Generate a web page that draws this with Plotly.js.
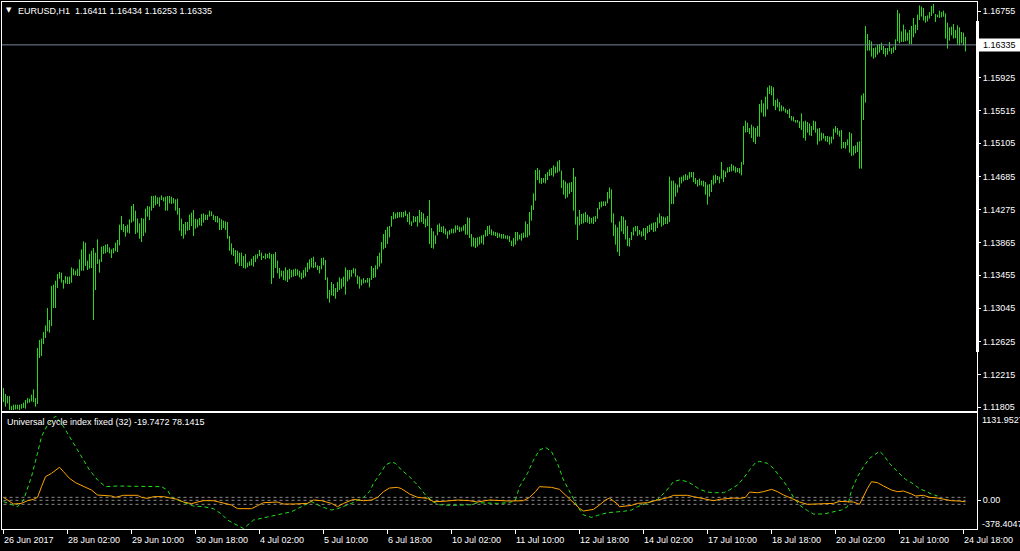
<!DOCTYPE html>
<html><head><meta charset="utf-8">
<script src="https://cdn.plot.ly/plotly-3.0.1.min.js"></script>
<style>html,body{margin:0;padding:0;background:#000;overflow:hidden}#chart{width:1020px;height:551px}</style>
</head><body><div id="chart"></div>
<script>
const symbolTitle = "EURUSD,H1  1.16411 1.16434 1.16253 1.16335";
const indicatorTitle = "Universal cycle index fixed (32) -19.7472 78.1415";
const lastClose = 1.16335;

const barHigh = [
1.12046,1.11971,1.11946,1.11946,1.11821,1.11838,1.11838,1.11838,1.11838,1.11846,
1.11863,1.11896,1.11921,1.11913,1.11963,1.12029,1.11921,1.12546,1.12646,1.12663,
1.12746,1.12829,1.13046,1.12896,1.13321,1.13338,1.13388,1.13471,1.13496,1.13488,
1.13396,1.13446,1.13438,1.13438,1.13554,1.13538,1.13513,1.13538,1.13654,1.13779,
1.13879,1.13863,1.13638,1.13721,1.13763,1.13796,1.13738,1.13904,1.13654,1.13813,
1.13821,1.13838,1.13846,1.13804,1.13779,1.13796,1.13863,1.13896,1.14088,1.14196,
1.14096,1.14071,1.14088,1.14154,1.14321,1.14346,1.14263,1.14163,1.14104,1.14171,
1.14163,1.14288,1.14321,1.14313,1.14446,1.14446,1.14454,1.14429,1.14429,1.14454,
1.14429,1.14438,1.14446,1.14446,1.14438,1.14421,1.14404,1.14413,1.14296,1.14163,
1.14096,1.14121,1.14121,1.14213,1.14238,1.14271,1.14163,1.14154,1.14171,1.14221,
1.14229,1.14213,1.14213,1.14263,1.14254,1.14213,1.14196,1.14196,1.14171,1.14154,
1.14138,1.14129,1.14121,1.13946,1.13854,1.13796,1.13771,1.13763,1.13738,1.13738,
1.13696,1.13721,1.13613,1.13629,1.13663,1.13696,1.13713,1.13721,1.13771,1.13738,
1.13696,1.13729,1.13721,1.13738,1.13721,1.13721,1.13746,1.13638,1.13546,1.13513,
1.13513,1.13554,1.13521,1.13538,1.13521,1.13529,1.13538,1.13529,1.13513,1.13488,
1.13521,1.13554,1.13613,1.13654,1.13671,1.13688,1.13621,1.13579,1.13571,1.13671,
1.13679,1.13646,1.13429,1.13271,1.13371,1.13346,1.13296,1.13371,1.13429,1.13413,
1.13438,1.13554,1.13521,1.13521,1.13521,1.13546,1.13538,1.13454,1.13438,1.13404,
1.13421,1.13396,1.13421,1.13421,1.13571,1.13546,1.13579,1.13696,1.13738,1.13871,
1.13971,1.14021,1.14063,1.14071,1.14196,1.14246,1.14229,1.14246,1.14246,1.14246,
1.14246,1.14263,1.14221,1.14246,1.14129,1.14196,1.14188,1.14196,1.14271,1.14246,
1.14229,1.14163,1.14196,1.14396,1.14046,1.14004,1.13954,1.14088,1.14104,1.14063,
1.14071,1.14038,1.14004,1.14021,1.14038,1.14038,1.14079,1.14079,1.14063,1.14054,
1.14079,1.14096,1.14179,1.14171,1.13971,1.13929,1.13921,1.13929,1.13938,1.13954,
1.13963,1.14021,1.14071,1.14079,1.14029,1.14004,1.13996,1.13988,1.13979,1.13971,
1.13971,1.13954,1.13954,1.13946,1.13888,1.13921,1.13996,1.13996,1.13963,1.13979,
1.13988,1.14129,1.14096,1.14246,1.14329,1.14479,1.14771,1.14796,1.14771,1.14671,
1.14671,1.14721,1.14746,1.14779,1.14796,1.14829,1.14813,1.14879,1.14896,1.14763,
1.14646,1.14629,1.14604,1.14613,1.14621,1.14796,1.14688,1.14188,1.14271,1.14221,
1.14229,1.14246,1.14213,1.14188,1.14171,1.14188,1.14196,1.14296,1.14371,1.14379,
1.14379,1.14379,1.14496,1.14554,1.14529,1.14229,1.14088,1.14054,1.14129,1.14196,
1.14188,1.14146,1.14071,1.13921,1.13996,1.14054,1.14071,1.14071,1.14021,1.14004,
1.14046,1.14046,1.14071,1.14088,1.14104,1.14113,1.14121,1.14179,1.14229,1.14196,
1.14188,1.14179,1.14196,1.14688,1.14638,1.14638,1.14604,1.14588,1.14679,1.14688,
1.14704,1.14721,1.14704,1.14746,1.14746,1.14746,1.14671,1.14646,1.14663,1.14638,
1.14638,1.14621,1.14588,1.14596,1.14646,1.14704,1.14713,1.14696,1.14688,1.14871,
1.14771,1.14754,1.14804,1.14813,1.14846,1.14829,1.14813,1.14796,1.14796,1.14871,
1.15321,1.15388,1.15363,1.15296,1.15338,1.15313,1.15296,1.15321,1.15596,1.15646,
1.15604,1.15688,1.15804,1.15829,1.15821,1.15804,1.15646,1.15663,1.15621,1.15579,
1.15563,1.15538,1.15521,1.15538,1.15446,1.15438,1.15396,1.15396,1.15379,1.15479,
1.15379,1.15388,1.15371,1.15354,1.15321,1.15388,1.15379,1.15288,1.15296,1.15238,
1.15229,1.15196,1.15196,1.15188,1.15188,1.15288,1.15321,1.15296,1.15263,1.15271,
1.15121,1.15121,1.15154,1.15246,1.15229,1.15071,1.15079,1.15121,1.15129,1.15704,
1.15729,1.16571,1.16471,1.16396,1.16379,1.16296,1.16304,1.16338,1.16346,1.16363,
1.16321,1.16296,1.16296,1.16371,1.16296,1.16313,1.16404,1.16771,1.16729,1.16504,
1.16588,1.16529,1.16488,1.16521,1.16571,1.16671,1.16588,1.16713,1.16829,1.16813,
1.16796,1.16696,1.16704,1.16746,1.16821,1.16846,1.16721,1.16713,1.16763,1.16746,
1.16763,1.16729,1.16613,1.16554,1.16563,1.16596,1.16521,1.16579,1.16554,1.16496,
1.16488,1.16434];

const barLow = [
1.11871,1.11813,1.11854,1.11771,1.11771,1.11771,1.11779,1.11779,1.11771,1.11788,
1.11796,1.11788,1.11854,1.11863,1.11879,1.11871,1.11813,1.11846,1.12421,1.12446,
1.12596,1.12671,1.12754,1.12738,1.12821,1.13046,1.13046,1.13296,1.13413,1.13363,
1.13288,1.13354,1.13346,1.13346,1.13363,1.13454,1.13454,1.13446,1.13446,1.13513,
1.13513,1.13571,1.13521,1.13538,1.13546,1.12896,1.13271,1.13596,1.13488,1.13621,
1.13721,1.13729,1.13746,1.13729,1.13671,1.13729,1.13754,1.13746,1.13829,1.14021,
1.13996,1.13938,1.13988,1.13979,1.14113,1.14129,1.13971,1.13988,1.13913,1.13871,
1.13946,1.13988,1.14188,1.14146,1.14263,1.14296,1.14329,1.14346,1.14313,1.14396,
1.14379,1.14263,1.14263,1.14354,1.14346,1.14354,1.14263,1.14213,1.14013,1.13946,
1.13913,1.13963,1.14013,1.14021,1.14071,1.13946,1.14038,1.14054,1.14079,1.14071,
1.14113,1.14146,1.14146,1.14188,1.14196,1.14146,1.14121,1.14113,1.14021,1.14021,
1.14046,1.14021,1.13913,1.13763,1.13713,1.13696,1.13596,1.13613,1.13571,1.13571,
1.13546,1.13538,1.13554,1.13571,1.13579,1.13563,1.13621,1.13663,1.13696,1.13646,
1.13671,1.13654,1.13671,1.13663,1.13346,1.13421,1.13546,1.13479,1.13413,1.13438,
1.13396,1.13388,1.13371,1.13404,1.13429,1.13438,1.13446,1.13454,1.13429,1.13404,
1.13421,1.13438,1.13496,1.13529,1.13554,1.13546,1.13554,1.13521,1.13479,1.13529,
1.13579,1.13396,1.13163,1.13113,1.13204,1.13196,1.13163,1.13246,1.13271,1.13288,
1.13313,1.13213,1.13379,1.13404,1.13438,1.13479,1.13438,1.13346,1.13288,1.13329,
1.13354,1.13363,1.13363,1.13304,1.13396,1.13421,1.13429,1.13529,1.13563,1.13604,
1.13779,1.13796,1.13846,1.13929,1.14063,1.14154,1.14163,1.14171,1.14179,1.14179,
1.14179,1.14196,1.14121,1.14088,1.14071,1.14113,1.14121,1.14063,1.14113,1.14121,
1.14096,1.14054,1.14071,1.13846,1.13796,1.13788,1.13846,1.13954,1.13996,1.13996,
1.13979,1.13963,1.13913,1.13963,1.13979,1.13979,1.13988,1.14021,1.13996,1.14004,
1.14013,1.13963,1.13963,1.13921,1.13813,1.13813,1.13796,1.13813,1.13838,1.13854,
1.13838,1.13938,1.13946,1.13971,1.13954,1.13954,1.13946,1.13921,1.13929,1.13913,
1.13913,1.13913,1.13904,1.13871,1.13821,1.13813,1.13838,1.13888,1.13904,1.13888,
1.13921,1.13929,1.13929,1.13954,1.14138,1.14271,1.14388,1.14646,1.14604,1.14596,
1.14613,1.14604,1.14646,1.14696,1.14704,1.14688,1.14729,1.14738,1.14754,1.14546,
1.14463,1.14413,1.14429,1.14471,1.14496,1.14263,1.14088,1.13896,1.14079,1.14096,
1.14104,1.14121,1.14113,1.14096,1.14104,1.14096,1.14121,1.14163,1.14279,1.14304,
1.14321,1.14321,1.14354,1.14413,1.14113,1.13946,1.13838,1.13746,1.13696,1.14004,
1.13971,1.13904,1.13821,1.13813,1.13896,1.13954,1.14004,1.13946,1.13963,1.13938,
1.13946,1.13896,1.13979,1.13996,1.14021,1.13996,1.14004,1.14046,1.14104,1.14063,
1.14079,1.14096,1.14096,1.14121,1.14346,1.14346,1.14438,1.14488,1.14554,1.14604,
1.14629,1.14646,1.14646,1.14663,1.14679,1.14621,1.14596,1.14563,1.14579,1.14579,
1.14563,1.14463,1.14338,1.14438,1.14496,1.14588,1.14604,1.14646,1.14604,1.14663,
1.14621,1.14679,1.14738,1.14746,1.14754,1.14763,1.14738,1.14746,1.14729,1.14704,
1.14838,1.15238,1.15246,1.15221,1.15171,1.15121,1.15096,1.15188,1.15188,1.15488,
1.15438,1.15438,1.15529,1.15721,1.15704,1.15571,1.15521,1.15554,1.15504,1.15504,
1.15513,1.15488,1.15471,1.15421,1.15388,1.15379,1.15363,1.15363,1.15296,1.15271,
1.15171,1.15138,1.15238,1.15204,1.15196,1.15271,1.15238,1.15088,1.15129,1.15138,
1.15163,1.15129,1.15121,1.15088,1.15104,1.15154,1.15238,1.15213,1.15188,1.15038,
1.15046,1.15038,1.15079,1.14988,1.14946,1.14954,1.14979,1.14996,1.14788,1.14788,
1.15396,1.15613,1.16263,1.16263,1.16188,1.16163,1.16179,1.16213,1.16238,1.16271,
1.16221,1.16188,1.16213,1.16254,1.16221,1.16238,1.16271,1.16379,1.16354,1.16371,
1.16371,1.16379,1.16388,1.16346,1.16346,1.16429,1.16479,1.16521,1.16646,1.16688,
1.16638,1.16613,1.16629,1.16663,1.16696,1.16729,1.16621,1.16679,1.16671,1.16679,
1.16688,1.16413,1.16288,1.16388,1.16454,1.16413,1.16421,1.16338,1.16329,1.16354,
1.16329,1.16253];

const priceTicks = [1.11805,1.12215,1.12625,1.13045,1.13455,1.13865,1.14275,1.14685,1.15105,1.15515,1.15925,1.16755];

const timeTickBars = [0,32,64,96,128,160,192,224,256,288,320,352,384,416,448,480];
const timeTickLabels = ["26 Jun 2017","28 Jun 02:00","29 Jun 10:00","30 Jun 18:00","4 Jul 02:00","5 Jul 10:00","6 Jul 18:00","10 Jul 02:00","11 Jul 10:00","12 Jul 18:00","14 Jul 02:00","17 Jul 10:00","18 Jul 18:00","20 Jul 02:00","21 Jul 10:00","24 Jul 18:00"];

const ucGreenBar = [0,7,10,14,17,19,22,26,30,34,39,43,47,51,57,65,79,82,84,88,92,95,100,105,109,112,115,120,125,132,139,144,149,154,159,164,167,170,174,177,180,183,185,189,191,194,196,199,203,207,211,215,218,224,230,234,237,242,247,253,256,258,262,265,268,271,274,277,280,284,287,290,294,297,302,310,314,317,322,327,331,333,335,338,342,345,348,352,355,360,363,367,370,373,376,378,382,385,388,392,395,398,402,405,410,415,419,422,424,427,430,433,438,440,443,447,451,455,458,462,464,467];
const ucGreenVal = [-18,-86,0,317,631,855,1011,1131.9527,989,810,586,407,273,183,192,192,183,138,40,-5,-50,-77,-86,-112,-184,-265,-309,-378.4047,-265,-220,-184,-153,-86,-18,-86,-130,-112,-86,-41,0,40,116,228,384,474,514,496,407,317,205,71,-23,-59,-68,-68,-59,-32,-41,-41,-32,4,183,362,541,675,711,653,496,273,71,-86,-197,-229,-202,-166,-148,-130,-86,-32,13,116,190,250,273,250,205,147,111,102,102,138,205,295,407,505,523,496,429,317,183,40,-63,-139,-184,-184,-157,-130,-86,138,317,452,563,658,608,496,384,281,219,156,111,84,58];

const ucOrangeBar = [0,2,5,9,12,15,17,19,21,24,26,28,30,33,36,40,44,47,54,56,60,67,69,72,75,80,84,87,90,94,97,100,105,110,114,117,124,127,130,137,140,145,152,155,159,164,167,170,175,180,184,187,190,193,197,199,203,207,212,215,220,227,233,237,243,253,260,263,266,268,274,278,282,285,288,290,295,298,301,303,307,308,314,317,322,327,332,335,338,342,345,348,352,355,358,362,365,368,371,373,377,380,384,387,390,394,398,402,407,412,415,418,422,425,428,429,432,434,437,440,444,447,450,454,456,460,463,467,470,474,478,481];
const ucOrangeVal = [40,4,-50,-41,-5,13,40,183,317,362,407,443,384,295,237,183,138,71,58,40,67,67,40,26,49,49,26,13,-23,-45,-23,-5,-5,-32,-63,-112,-112,-72,-32,-23,-50,-50,-41,4,-5,-41,-86,-41,13,-5,4,40,116,165,174,156,85,40,26,-18,-14,4,-5,-23,4,-10,-5,40,116,183,174,147,40,-41,-108,-144,-121,-63,4,31,-50,-86,-68,-41,-32,4,35,67,71,67,49,31,4,-5,13,22,31,26,40,111,102,116,147,116,71,26,-23,-54,-50,-50,-41,-14,-18,-23,-54,4,161,250,237,192,138,116,125,85,58,67,40,31,13,-5,-10,-19.7472];

const ucLevels = [40, 0, -54];
const ucMax = 1131.9527, ucMin = -378.4047;

// ---------- build ----------
const W = 1020, H = 551;
const px = v => v / W, py = v => 1 - v / H;
const FONT = "Liberation Sans, Arial, sans-serif";
const barColor = "#2bd91c";

const segX = [], segY = [];
barHigh.forEach((h, i) => { segX.push(i, i, null); segY.push(barLow[i], h, null); });

const lastBar = barHigh.length - 1;
const traces = [
  {type:"scatter", mode:"lines", x:segX, y:segY, xaxis:"x", yaxis:"y",
   line:{color:barColor, width:1}, hoverinfo:"skip", connectgaps:false}
];
ucLevels.forEach(l => traces.push({type:"scatter", mode:"lines", x:[0, lastBar], y:[l, l],
  xaxis:"x2", yaxis:"y2", line:{color:"#8c8c8c", width:1, dash:"3px,3px"}, hoverinfo:"skip"}));
traces.push({type:"scatter", mode:"lines", x:ucGreenBar, y:ucGreenVal, xaxis:"x2", yaxis:"y2",
  line:{color:"#22e01a", width:1, dash:"4px,3px"}, hoverinfo:"skip"});
traces.push({type:"scatter", mode:"lines", x:ucOrangeBar, y:ucOrangeVal, xaxis:"x2", yaxis:"y2",
  line:{color:"#ffa500", width:1}, hoverinfo:"skip"});

const xDom = [px(2), px(977)];
const xRange = [-0.75, 486.75];
const axFont = {family:FONT, size:9, color:"#ffffff"};
const common = {showgrid:false, zeroline:false, showline:true, mirror:true, linecolor:"#ffffff", linewidth:1, automargin:false, fixedrange:true};

const annotations = [
  {xref:"paper", yref:"paper", x:px(5), y:py(10), xanchor:"left", yanchor:"middle", text:"▼", showarrow:false,
   font:{family:"DejaVu Sans", size:7, color:"#ffffff"}, borderpad:0},
  {xref:"paper", yref:"paper", x:px(17), y:py(10.5), xanchor:"left", yanchor:"middle", text:symbolTitle.replace(/  /g, "&nbsp;&nbsp;"), showarrow:false,
   font:axFont, borderpad:0},
  {xref:"paper", yref:"paper", x:px(6), y:py(421.5), xanchor:"left", yanchor:"middle", text:indicatorTitle, showarrow:false,
   font:axFont, borderpad:0},
  {xref:"paper", yref:"y", x:px(982), y:lastClose, xanchor:"left", yanchor:"middle", text:lastClose.toFixed(5), showarrow:false,
   font:{family:FONT, size:9, color:"#000000"}, borderpad:0},
  {xref:"paper", yref:"paper", x:px(981), y:py(420), xanchor:"left", yanchor:"middle", text:ucMax.toFixed(4), showarrow:false,
   font:axFont, borderpad:0},
  {xref:"paper", yref:"paper", x:px(981), y:py(524), xanchor:"left", yanchor:"middle", text:ucMin.toFixed(4), showarrow:false,
   font:axFont, borderpad:0}
];
timeTickBars.forEach((b, k) => annotations.push({xref:"x2", yref:"paper", x:b, y:py(539.5), xanchor:"left", yanchor:"middle",
  text:timeTickLabels[k], showarrow:false, font:axFont, borderpad:0, xshift:-1}));

const shapes = [
  {type:"line", xref:"paper", yref:"y", x0:xDom[0], x1:xDom[1], y0:lastClose, y1:lastClose, line:{color:"#778899", width:1}},
  {type:"rect", xref:"paper", yref:"y", x0:px(977), x1:1, ysizemode:"pixel", yanchor:lastClose, y0:-6.5, y1:6.5,
   fillcolor:"#ffffff", line:{width:0}},
  {type:"rect", xref:"paper", yref:"paper", x0:px(976), x1:px(979), y0:py(352), y1:py(21), fillcolor:"#ffffff", line:{width:0}}
];

const layout = {
  width:W, height:H, margin:{l:0, r:0, t:0, b:0, pad:0},
  paper_bgcolor:"#000000", plot_bgcolor:"#000000", showlegend:false,
  font:axFont, hovermode:false,
  xaxis:Object.assign({domain:xDom, anchor:"y", range:xRange, showticklabels:false, ticks:""}, common),
  yaxis:Object.assign({domain:[py(411), py(2)], anchor:"x", side:"right", range:[1.11759, 1.16871],
    tickmode:"array", tickvals:priceTicks, ticktext:priceTicks.map(v => v.toFixed(5)),
    ticks:"outside", ticklen:3, tickwidth:1, tickcolor:"#ffffff", tickfont:axFont}, common),
  xaxis2:Object.assign({domain:xDom, anchor:"y2", range:xRange, tickmode:"array", tickvals:timeTickBars,
    ticktext:timeTickBars.map(() => ""), ticks:"outside", ticklen:4, tickwidth:1, tickcolor:"#ffffff"}, common),
  yaxis2:Object.assign({domain:[py(529), py(413)], anchor:"x2", side:"right", range:[-385, 1172],
    tickmode:"array", tickvals:[0], ticktext:["0.00"], ticks:"outside", ticklen:3, tickwidth:1, tickcolor:"#ffffff", tickfont:axFont}, common),
  annotations:annotations, shapes:shapes
};

Plotly.newPlot("chart", traces, layout, {displayModeBar:false, staticPlot:true});
</script>
</body></html>
